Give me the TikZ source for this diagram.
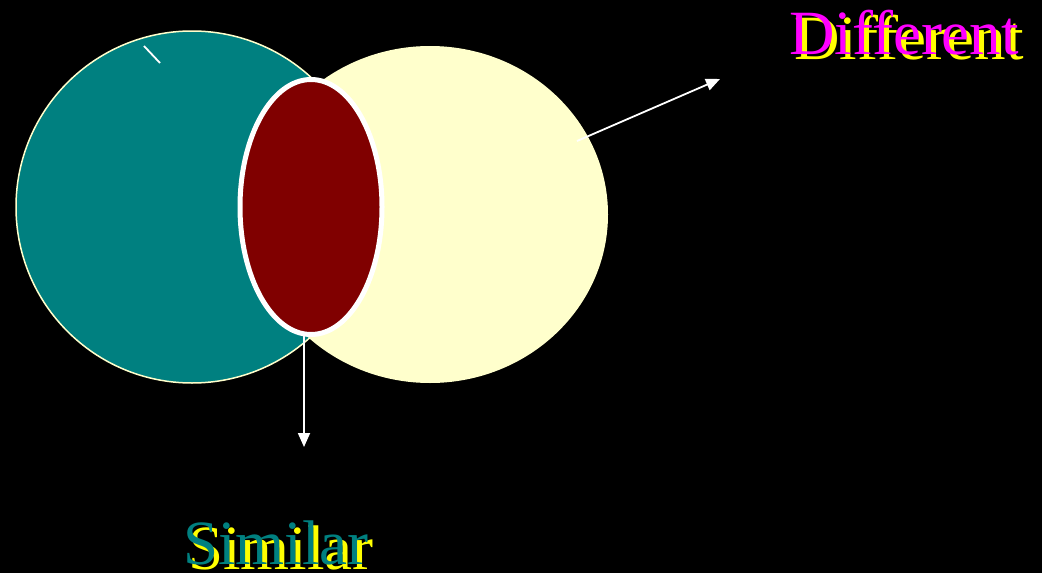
\documentclass[tikz,border=0pt]{standalone}
\usepackage{fontspec}
\setmainfont{Liberation Serif}
\usetikzlibrary{shapes.geometric,arrows.meta}
\definecolor{tealc}{HTML}{008080}
\definecolor{creamc}{HTML}{FFFFCC}
\definecolor{maroonc}{HTML}{800000}
\definecolor{magc}{HTML}{FF00FF}
\definecolor{yelc}{HTML}{FFFF00}
\tikzset{
  blob/.style={ellipse, inner sep=0pt, outer sep=0pt},
  conn/.style={draw=white, line width=1.8pt, -{Triangle[length=14pt,width=12pt]}},
  big/.style={inner sep=0pt, anchor=base west, font=\fontsize{63}{68}\selectfont},
}
\begin{document}
\begin{tikzpicture}[x=1pt,y=-1pt]
\fill[black] (0,0) rectangle (1042,573);
\useasboundingbox (0,0) rectangle (1042,573);
\node[blob, fill=tealc, draw=creamc, line width=1.5pt, minimum width=352pt, minimum height=352pt] (teal) at (192,207) {};
\node[blob, fill=creamc, minimum width=356pt, minimum height=337pt] (cream) at (430,214.5) {};
\node[blob, fill=maroonc, draw=white, line width=5pt, minimum width=142pt, minimum height=255pt] (red) at (311,207) {};
\coordinate (t1) at (144,46);
\coordinate (t2) at (160,63);
\draw[white, line width=1.8pt] (t1) -- (t2);
\coordinate (a1) at (577,141);
\coordinate (a2) at (720,79);
\draw[conn] (a1) -- (a2);
\coordinate (b2) at (304,447);
\draw[conn] (red.south -| b2) -- (b2);
\node[big, text=yelc] (diffs) at (794,59) {Different};
\node[big, text=magc] (diff) at (789,54) {Different};
\node[big, text=yelc] (sims) at (188,569) {Similar};
\node[big, text=tealc] (sim) at (183,564) {Similar};
\end{tikzpicture}
\end{document}
